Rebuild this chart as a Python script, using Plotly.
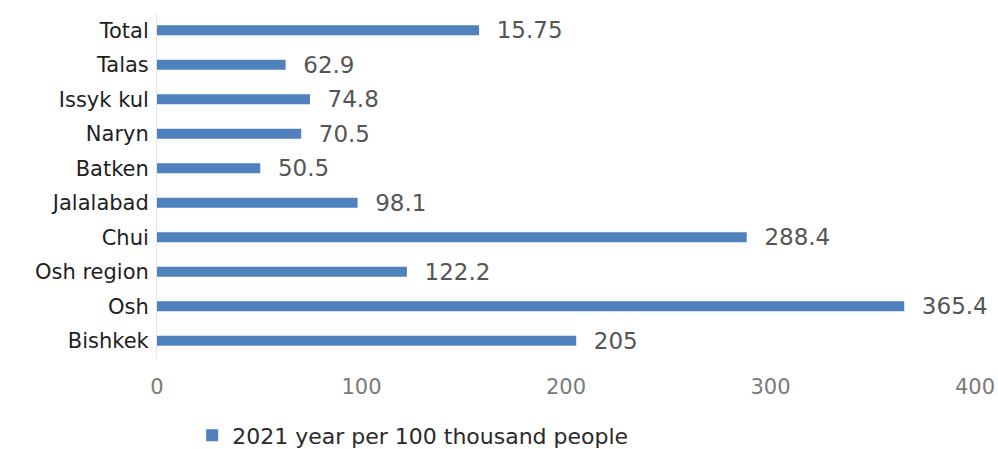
import plotly.graph_objects as go

categories = ["Bishkek", "Osh", "Osh region", "Chui", "Jalalabad", "Batken",
              "Naryn", "Issyk kul", "Talas", "Total"]
values = [205, 365.4, 122.2, 288.4, 98.1, 50.5, 70.5, 74.8, 62.9, 157.5]
value_labels = ["205", "365.4", "122.2", "288.4", "98.1", "50.5", "70.5",
                "74.8", "62.9", "15.75"]
x_ticks = [0, 100, 200, 300, 400]
series_name = "2021 year per 100 thousand people"

FONT = "DejaVu Sans"

fig = go.Figure()
fig.add_trace(go.Bar(
    y=categories, x=values, orientation="h", name=series_name,
    marker=dict(color="#4f81bd", line=dict(width=0)),
    text=["\u00a0\u00a0" + t for t in value_labels],
    textposition="outside", cliponaxis=False, constraintext="none",
    textfont=dict(family=FONT, size=23, color="#555555"),
    showlegend=True,
))

fig.update_layout(
    width=998, height=449,
    margin=dict(l=157, r=23, t=13, b=91, autoexpand=False),
    paper_bgcolor="white", plot_bgcolor="white",
    bargap=0.71,
    showlegend=True,
    legend=dict(orientation="h", x=0.043, yref="container", y=0.03,
                xanchor="left", yanchor="middle",
                font=dict(family=FONT, size=22, color="#2a2a2a"),
                bgcolor="rgba(0,0,0,0)"),
    xaxis=dict(range=[0, 400], tickvals=x_ticks, showgrid=False, zeroline=False,
               showline=False, ticks="", ticklabelstandoff=14, automargin=False,
               tickfont=dict(family=FONT, size=21, color="#7a7a7a")),
    yaxis=dict(categoryorder="array", categoryarray=categories, showgrid=False,
               zeroline=False, showline=True, linecolor="#e4e4e4", linewidth=1,
               ticks="", ticklabelstandoff=3, automargin=False,
               tickfont=dict(family=FONT, size=21, color="#1e1e1e")),
)

fig.write_html("out.html")
